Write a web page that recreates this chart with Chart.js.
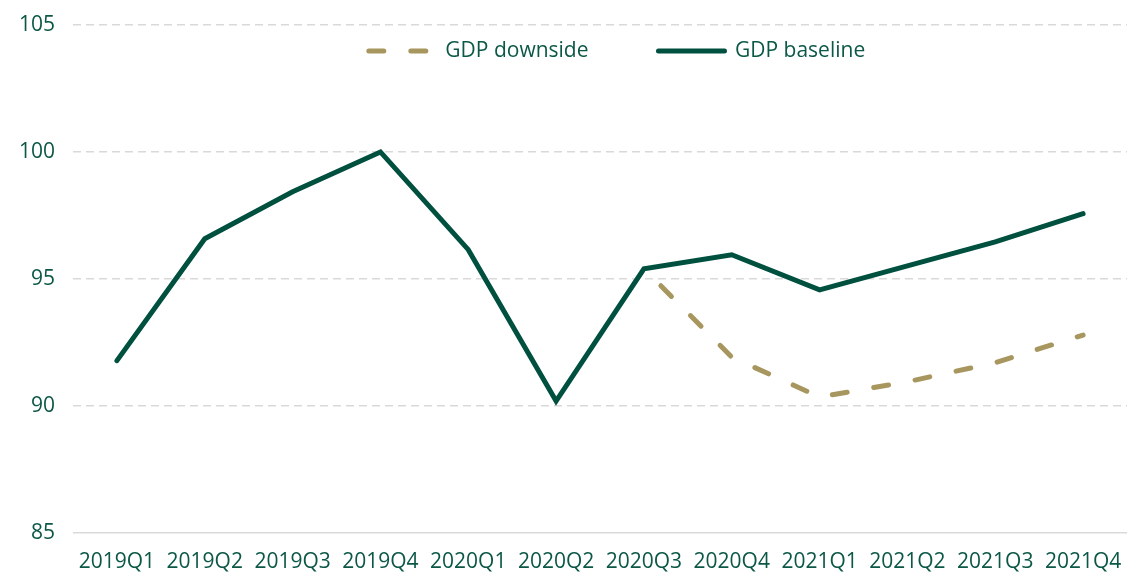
<!DOCTYPE html>
<html>
<head>
<meta charset="utf-8">
<title>GDP baseline vs downside</title>
<script src="https://cdn.jsdelivr.net/npm/chart.js@4.4.1/dist/chart.umd.min.js"></script>
<style>
  html, body { margin: 0; padding: 0; background: #ffffff; }
  #wrap { position: relative; width: 1127px; height: 573px; }
</style>
</head>
<body>
<div id="wrap"><canvas id="gdpChart"></canvas></div>
<script>
// =========================
// Data
// =========================
const quarters = [
  "2019Q1", "2019Q2", "2019Q3", "2019Q4",
  "2020Q1", "2020Q2", "2020Q3", "2020Q4",
  "2021Q1", "2021Q2", "2021Q3", "2021Q4",
];
const gdpBaseline = [91.78, 96.58, 98.43, 100, 96.15, 90.19, 95.4, 95.95, 94.57, 95.51, 96.46, 97.57];
const gdpDownside = [null, null, null, null, null, null, 95.4, 91.92, 90.35, 90.95, 91.7, 92.79];
const yTicks = [85, 90, 95, 100, 105];

// colours
const baselineColor = "#00503f";
const downsideColor = "#a8965f";
const textColor = "#0c5847";
const gridColor = "#d9d9d9";

// =========================
// Legend sits inside the plot area, a bit right of centre
// =========================
const legendPlacer = {
  id: "legendPlacer",
  afterLayout(chart) {
    const lg = chart.legend;
    if (!lg) return;
    const pad = lg.options.labels.padding;
    const half = lg.options.labels.font.size / 2;
    lg.top = 51 - half - pad;
    lg.bottom = 51 + 30; // keep the clip box big enough for the row
    const shift = 617 - (lg.left + lg.right) / 2;
    lg.left += shift;
    lg.right += shift;
  },
};

// drop the label overhang padding, layout.padding handles the margins
function noOverhang(scale) {
  scale.paddingLeft = 0;
  scale.paddingRight = 0;
  scale.paddingTop = 0;
  scale.paddingBottom = 0;
}

const ctx = document.getElementById("gdpChart");
new Chart(ctx, {
  type: "line",
  data: {
    labels: quarters,
    datasets: [
      {
        label: "GDP downside",
        data: gdpDownside,
        borderColor: downsideColor,
        backgroundColor: downsideColor,
        borderWidth: 5,
        borderDash: [15, 27],
        borderDashOffset: 18,
        borderCapStyle: "round",
        pointRadius: 0,
        tension: 0,
        order: 1,
      },
      {
        label: "GDP baseline",
        data: gdpBaseline,
        borderColor: baselineColor,
        backgroundColor: baselineColor,
        borderWidth: 5,
        borderCapStyle: "round",
        borderJoinStyle: "miter",
        pointRadius: 0,
        tension: 0,
        order: 0,
      },
    ],
  },
  options: {
    responsive: true,
    maintainAspectRatio: false,
    animation: false,
    layout: { autoPadding: false, padding: { top: 0, left: 1, right: -11, bottom: -19 } },
    plugins: {
      tooltip: { enabled: false },
      legend: {
        position: "top",
        align: "center",
        maxHeight: 25,
        labels: {
          color: textColor,
          font: { family: "'Open Sans', sans-serif", size: 21 },
          usePointStyle: true,
          pointStyle: "line",
          pointStyleWidth: 66,
          padding: 70,
          sort: (a, b) => a.datasetIndex - b.datasetIndex,
          generateLabels(chart) {
            const items = Chart.defaults.plugins.legend.labels.generateLabels(chart);
            return items.map((it) => {
              const ds = chart.data.datasets[it.datasetIndex];
              return {
                ...it,
                lineWidth: 5,
                lineCap: "round",
                lineDash: ds.borderDash || [],
                lineDashOffset: 0,
                strokeStyle: ds.borderColor,
                fontColor: textColor,
              };
            });
          },
        },
      },
    },
    scales: {
      x: {
        offset: true,
        afterFit: noOverhang,
        grid: { display: false, drawTicks: false },
        border: { display: false },
        ticks: {
          color: textColor,
          font: { family: "'Open Sans', sans-serif", size: 21 },
          padding: 17,
          maxRotation: 0,
          autoSkip: false,
        },
      },
      y: {
        min: 85,
        max: 105,
        afterFit: noOverhang,
        afterBuildTicks(axis) {
          axis.ticks = yTicks.map((v) => ({ value: v }));
        },
        grid: { color: gridColor, lineWidth: 1.5, drawTicks: false },
        border: {
          display: false,
          dash: (c) => (c.tick && c.tick.value === 85 ? [] : [8, 5]),
        },
        ticks: {
          color: textColor,
          font: { family: "'Open Sans', sans-serif", size: 21 },
          padding: 18,
        },
      },
    },
  },
  plugins: [legendPlacer],
});
</script>
</body>
</html>
